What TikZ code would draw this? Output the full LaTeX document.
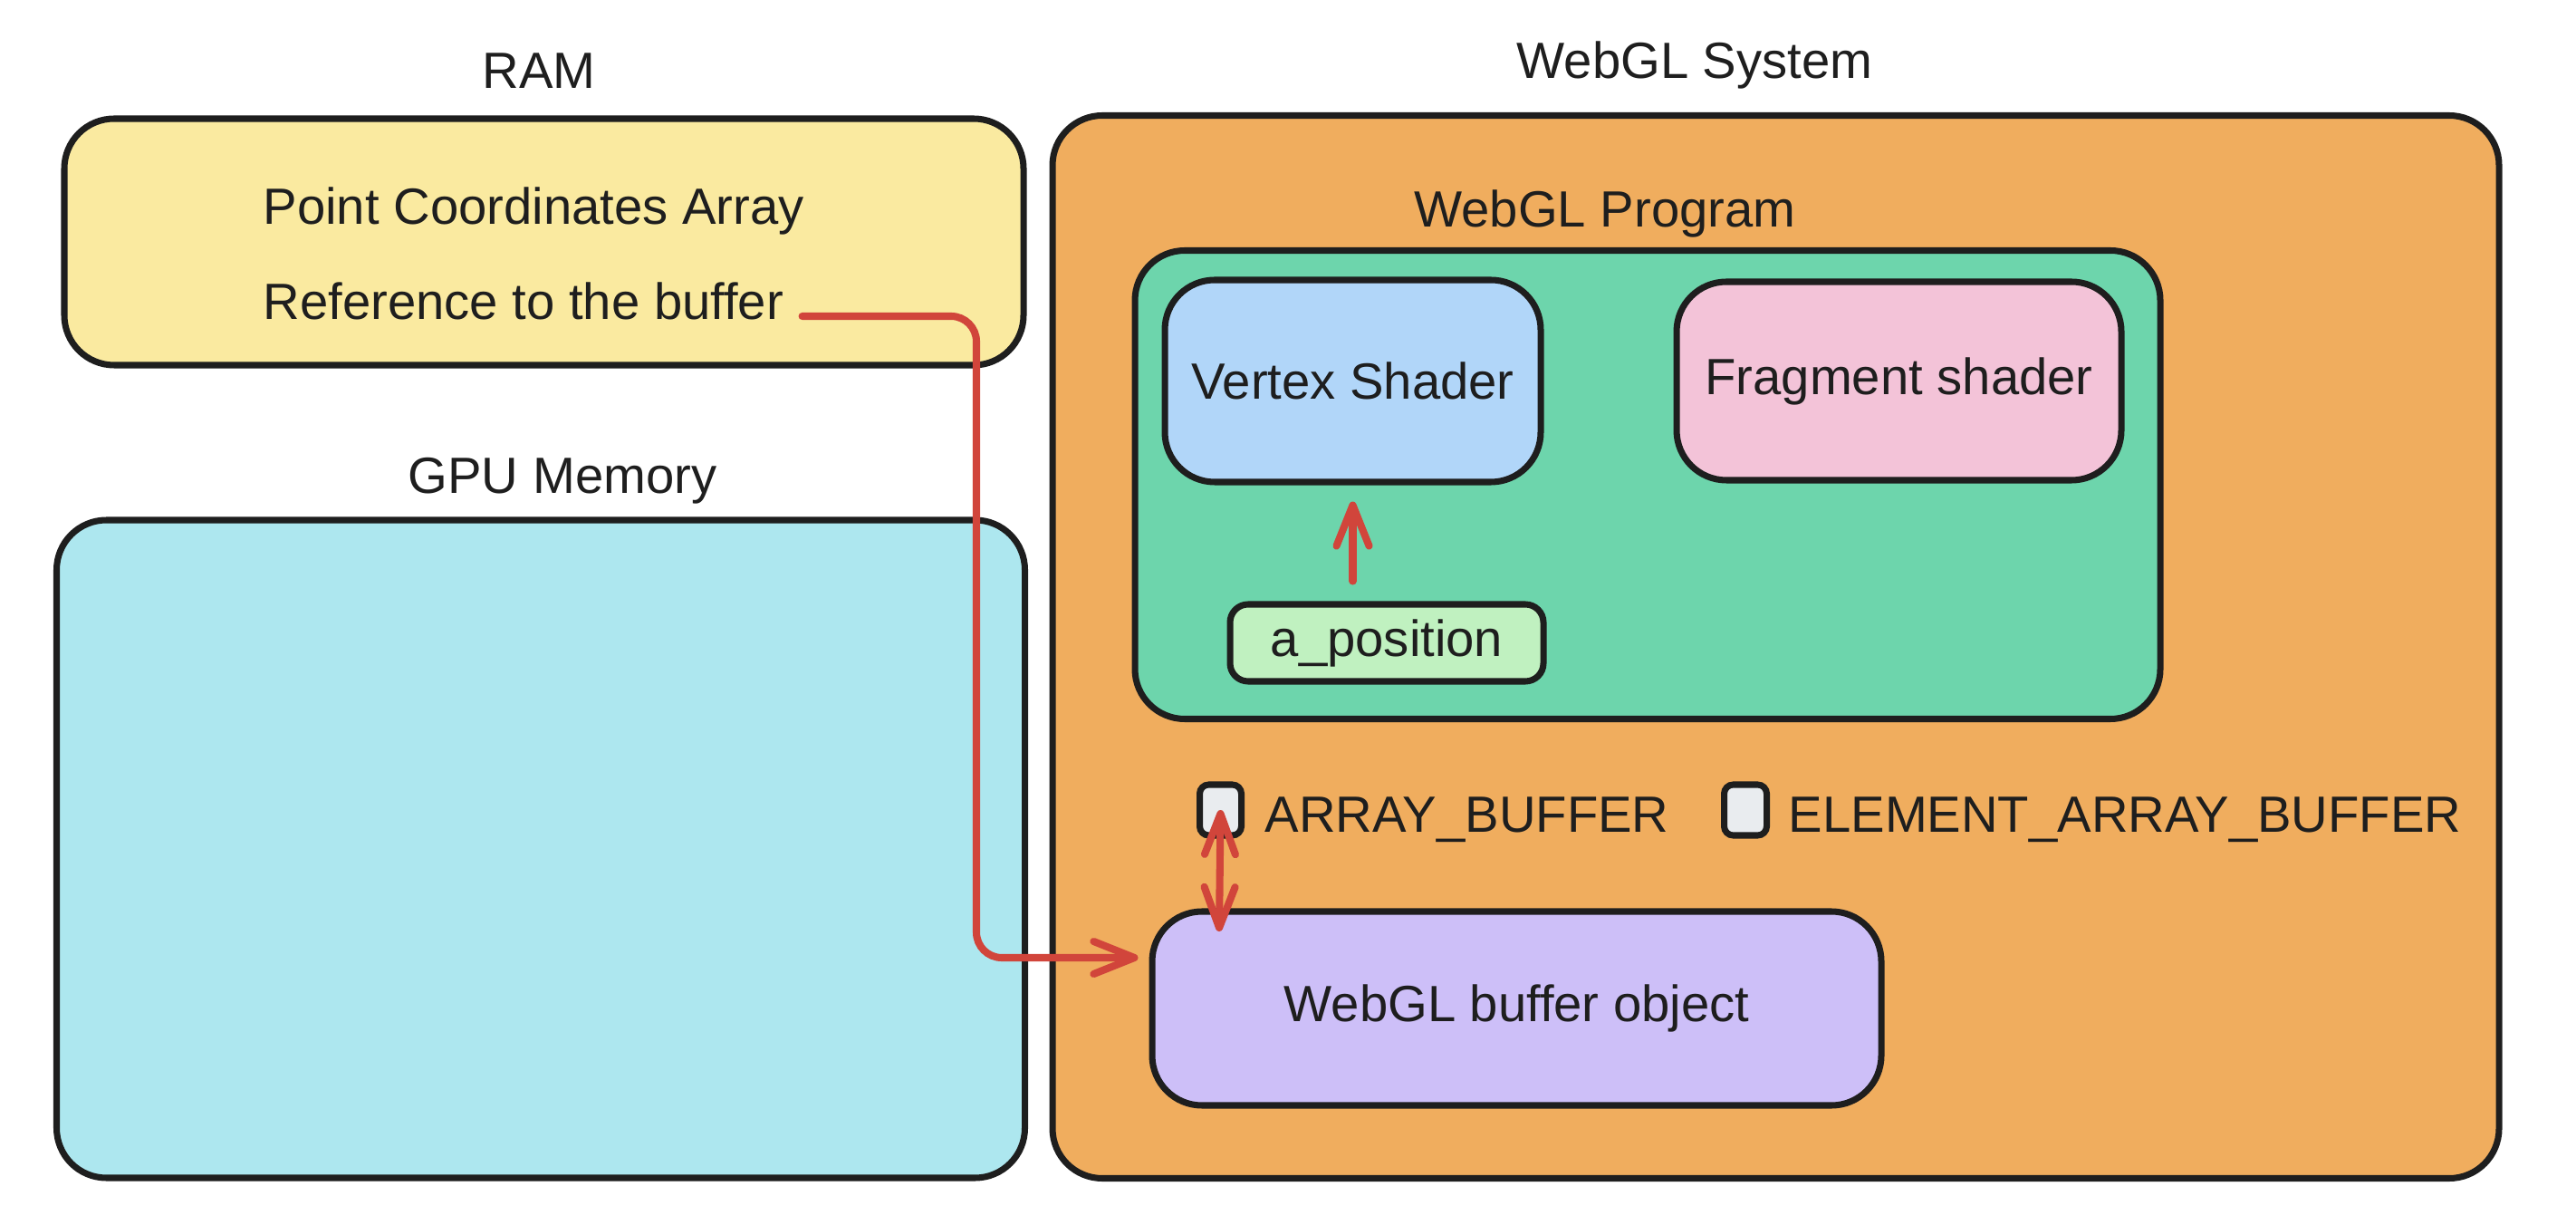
\documentclass[tikz,border=0pt]{standalone}
\usepackage{fontspec}
\setmainfont{Liberation Sans}
\usetikzlibrary{arrows.meta}
\definecolor{ink}{HTML}{1E1E1E}
\definecolor{linkred}{HTML}{D1453B}
\definecolor{ramfill}{HTML}{FAEAA0}
\definecolor{gpufill}{HTML}{ADE7EF}
\definecolor{sysfill}{HTML}{F0AD5E}
\definecolor{progfill}{HTML}{6DD5AC}
\definecolor{vertfill}{HTML}{B1D6F9}
\definecolor{fragfill}{HTML}{F3C3D8}
\definecolor{attrfill}{HTML}{C0F1C0}
\definecolor{buffill}{HTML}{CDBFF8}
\definecolor{chkfill}{HTML}{E9ECEF}

\begin{document}
\begin{tikzpicture}[box/.style={draw=ink,line width=2pt,rounded corners=0.55cm,inner sep=0pt,text=ink,font=\fontsize{16}{19}\selectfont},
    tag/.style={text=ink,inner sep=0pt,font=\fontsize{16}{19}\selectfont},
    link/.style={draw=linkred,line width=2.3pt,line cap=round,rounded corners=0.28cm},
    tip/.style={-{Straight Barb[length=0.45cm,width=0.36cm,round]}},
    both/.style={{Straight Barb[length=0.45cm,width=0.34cm,round]}-{Straight Barb[length=0.45cm,width=0.34cm,round]}}]

\useasboundingbox (0,0) rectangle (28.44,-13.52);

\node at (6.005,-2.67) [box,fill=ramfill,minimum width=10.59cm,minimum height=2.72cm] (ram) {};
\node at (5.97,-9.37) [box,fill=gpufill,minimum width=10.69cm,minimum height=7.26cm] (gpu) {};
\node at (19.605,-7.14) [box,fill=sysfill,minimum width=15.97cm,minimum height=11.73cm] (sys) {};
\node at (18.19,-5.35) [box,fill=progfill,minimum width=11.32cm,minimum height=5.17cm] (prog) {};
\node at (14.935,-4.205) [box,fill=vertfill,minimum width=4.15cm,minimum height=2.23cm] (vert) {Vertex Shader};
\node at (20.965,-4.205) [box,fill=fragfill,minimum width=4.91cm,minimum height=2.19cm] (frag) {Fragment shader};
\node at (15.31,-7.095) [box,fill=attrfill,rounded corners=0.2cm,minimum width=3.46cm,minimum height=0.85cm] (apos) {a\_position};
\node at (13.475,-8.94) [box,fill=chkfill,rounded corners=0.1cm,minimum width=0.46cm,minimum height=0.56cm] (chkA) {};
\node at (19.27,-8.94) [box,fill=chkfill,rounded corners=0.1cm,minimum width=0.47cm,minimum height=0.56cm] (chkE) {};
\node at (16.745,-11.13) [box,fill=buffill,minimum width=8.05cm,minimum height=2.14cm] (buf) {WebGL buffer object};

\node at (5.95,-0.98) [tag,anchor=base] (ramT) {RAM};
\node at (18.71,-0.87) [tag,anchor=base] (sysT) {WebGL System};
\node at (6.21,-5.45) [tag,anchor=base] (gpuT) {GPU Memory};
\node at (17.72,-2.51) [tag,anchor=base] (progT) {WebGL Program};
\node at (2.90,-2.48) [tag,anchor=base west] (pca) {Point Coordinates Array};
\node at (2.90,-3.53) [tag,anchor=base west] (refT) {Reference to the buffer};
\node at (13.96,-9.18) [tag,anchor=base west] (arrT) {ARRAY\_BUFFER};
\node at (19.74,-9.18) [tag,anchor=base west] (elT) {ELEMENT\_ARRAY\_BUFFER};

\coordinate (bend) at (10.78,-10.57);
\coordinate (bufIn) at (13.46,-10.28);

\draw[link,tip,shorten >=0.12cm] ([xshift=0.2cm,yshift=0.04cm]refT.base east) -| (bend) -- (bend -| buf.west);
\draw[link,tip,shorten <=0.22cm,shorten >=0.18cm] (vert.south |- apos.north) -- (vert.south);
\draw[link,both] (chkA.center) -- (bufIn);

\end{tikzpicture}
\end{document}
